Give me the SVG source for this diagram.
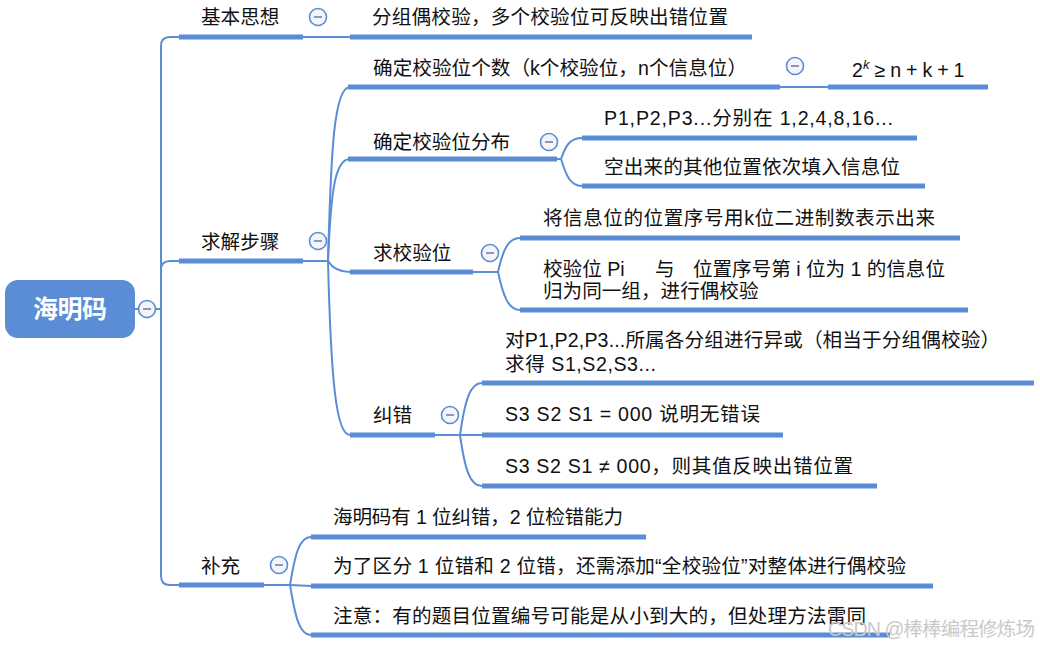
<svg xmlns="http://www.w3.org/2000/svg" width="1040" height="645" viewBox="0 0 1040 645">
<style>
.t{font-family:"Liberation Sans","Noto Sans CJK SC",sans-serif;font-size:19.6px;fill:#111}
.bar{stroke:#5a8dd6;stroke-width:5;fill:none}
.ln{stroke:#5a8dd6;stroke-width:2;fill:none}
.wm{font-family:"Liberation Sans","Noto Sans CJK SC",sans-serif;font-size:19.6px;fill:#c9c9c9}
</style>
<defs>
<g id="col"><circle r="8.5" fill="#f4f4f9" stroke="#5a8dd6" stroke-width="1.6"/><line x1="-4" y1="0" x2="4" y2="0" stroke="#8d97c4" stroke-width="2"/></g>
</defs>
<g id="connectors">
<path class="ln" d="M135,309 L161,309"/>
<path class="ln" d="M179,37 L170,37 Q161,37 161,46 L161,576 Q161,585 170,585 L179,585"/>
<path class="ln" d="M161,270 Q161,261 170,261 L179,261"/>
<path class="ln" d="M303,37 L350,37"/>
<path class="ln" d="M303,261 L328,261"/>
<path class="ln" d="M328,261 C331,150 334,87 350,87"/>
<path class="ln" d="M328,261 C331,190 335,159 350,159"/>
<path class="ln" d="M328,261 C333,269 340,272 350,272"/>
<path class="ln" d="M328,261 C331,380 336,435 350,435"/>
<path class="ln" d="M780,87 L828,87"/>
<path class="ln" d="M557,159 L561,159"/>
<path class="ln" d="M561,159 C566,145 570,138 582,138"/>
<path class="ln" d="M561,159 C566,175 570,186 582,186"/>
<path class="ln" d="M473,272 L498,272"/>
<path class="ln" d="M498,272 C503,250 508,238 520,238"/>
<path class="ln" d="M498,272 C503,295 508,310 520,310"/>
<path class="ln" d="M435,435 L482,435"/>
<path class="ln" d="M460,435 C465,400 470,383 482,383"/>
<path class="ln" d="M460,435 C465,470 470,486 482,486"/>
<path class="ln" d="M264,585 L290,585"/>
<path class="ln" d="M290,585 C295,555 299,537 311,537"/>
<path class="ln" d="M290,585 L311,586"/>
<path class="ln" d="M290,585 C295,615 299,635 311,635"/>
</g>
<g id="root">
<rect x="5" y="280" width="130" height="58" rx="13" fill="#5a8dd6"/>
<text x="70" y="318" text-anchor="middle" textLength="74" style="font-family:'Noto Sans CJK SC',sans-serif;font-size:25px;font-weight:bold;fill:#fff">海明码</text>
<use href="#col" x="147" y="309"/>
</g>
<g id="n-jiben">
<line class="bar" x1="179" y1="37" x2="303" y2="37"/>
<text class="t" x="201" y="24">基本思想</text>
<use href="#col" x="318" y="17"/>
</g>
<g id="n-jiben-1">
<line class="bar" x1="350" y1="37" x2="752" y2="37"/>
<text class="t" x="372" y="24" textLength="356">分组偶校验，多个校验位可反映出错位置</text>
</g>
<g id="n-qiujie">
<line class="bar" x1="179" y1="261" x2="303" y2="261"/>
<text class="t" x="201" y="249">求解步骤</text>
<use href="#col" x="318" y="241"/>
</g>
<g id="n-geshu">
<line class="bar" x1="348" y1="87" x2="780" y2="87"/>
<text class="t" x="373" y="75" textLength="374">确定校验位个数（k个校验位，n个信息位）</text>
<use href="#col" x="795" y="66"/>
</g>
<g id="n-formula">
<line class="bar" x1="828" y1="87" x2="988" y2="87"/>
<text class="t" x="852" y="77">2<tspan dy="-8" font-size="13" font-style="italic">k</tspan><tspan dy="8" textLength="95"> ≥ n + k + 1</tspan></text>
</g>
<g id="n-fenbu">
<line class="bar" x1="348" y1="159" x2="557" y2="159"/>
<text class="t" x="373" y="149">确定校验位分布</text>
<use href="#col" x="549" y="142"/>
</g>
<g id="n-fenbu-1">
<line class="bar" x1="582" y1="138" x2="917" y2="138"/>
<text class="t" x="604" y="125" textLength="289">P1,P2,P3...分别在 1,2,4,8,16...</text>
</g>
<g id="n-fenbu-2">
<line class="bar" x1="582" y1="186" x2="925" y2="186"/>
<text class="t" x="604" y="174" textLength="296">空出来的其他位置依次填入信息位</text>
</g>
<g id="n-qiu">
<line class="bar" x1="350" y1="272" x2="473" y2="272"/>
<text class="t" x="373" y="260">求校验位</text>
<use href="#col" x="490" y="253"/>
</g>
<g id="n-qiu-1">
<line class="bar" x1="520" y1="238" x2="960" y2="238"/>
<text class="t" x="543" y="225" textLength="392">将信息位的位置序号用k位二进制数表示出来</text>
</g>
<g id="n-qiu-2">
<line class="bar" x1="520" y1="310" x2="968" y2="310"/>
<text class="t" x="543" y="276">校验位 Pi</text>
<text class="t" x="655" y="276">与</text>
<text class="t" x="693" y="276" textLength="252">位置序号第 i 位为 1 的信息位</text>
<text class="t" x="543" y="298">归为同一组，进行偶校验</text>
</g>
<g id="n-jiucuo">
<line class="bar" x1="350" y1="435" x2="435" y2="435"/>
<text class="t" x="373" y="422">纠错</text>
<use href="#col" x="450" y="415"/>
</g>
<g id="n-jiucuo-1">
<line class="bar" x1="482" y1="383" x2="1034" y2="383"/>
<text class="t" x="505" y="347" textLength="495">对P1,P2,P3...所属各分组进行异或（相当于分组偶校验）</text>
<text class="t" x="505" y="371" textLength="151">求得 S1,S2,S3...</text>
</g>
<g id="n-jiucuo-2">
<line class="bar" x1="482" y1="435" x2="783" y2="435"/>
<text class="t" x="505" y="421" textLength="255">S3 S2 S1 = 000 说明无错误</text>
</g>
<g id="n-jiucuo-3">
<line class="bar" x1="482" y1="486" x2="877" y2="486"/>
<text class="t" x="505" y="473" textLength="348">S3 S2 S1 ≠ 000，则其值反映出错位置</text>
</g>
<g id="n-buchong">
<line class="bar" x1="179" y1="585" x2="264" y2="585"/>
<text class="t" x="201" y="573">补充</text>
<use href="#col" x="279" y="565"/>
</g>
<g id="n-buchong-1">
<line class="bar" x1="311" y1="537" x2="646" y2="537"/>
<text class="t" x="333" y="524" textLength="290">海明码有 1 位纠错，2 位检错能力</text>
</g>
<g id="n-buchong-2">
<line class="bar" x1="311" y1="586" x2="933" y2="586"/>
<text class="t" x="333" y="573" textLength="573">为了区分 1 位错和 2 位错，还需添加“全校验位”对整体进行偶校验</text>
</g>
<g id="n-buchong-3">
<line class="bar" x1="311" y1="635" x2="890" y2="635"/>
<text class="t" x="333" y="623" textLength="533">注意：有的题目位置编号可能是从小到大的，但处理方法雷同</text>
</g>
<text class="wm" x="828" y="636" textLength="207">CSDN @棒棒编程修炼场</text>
</svg>
